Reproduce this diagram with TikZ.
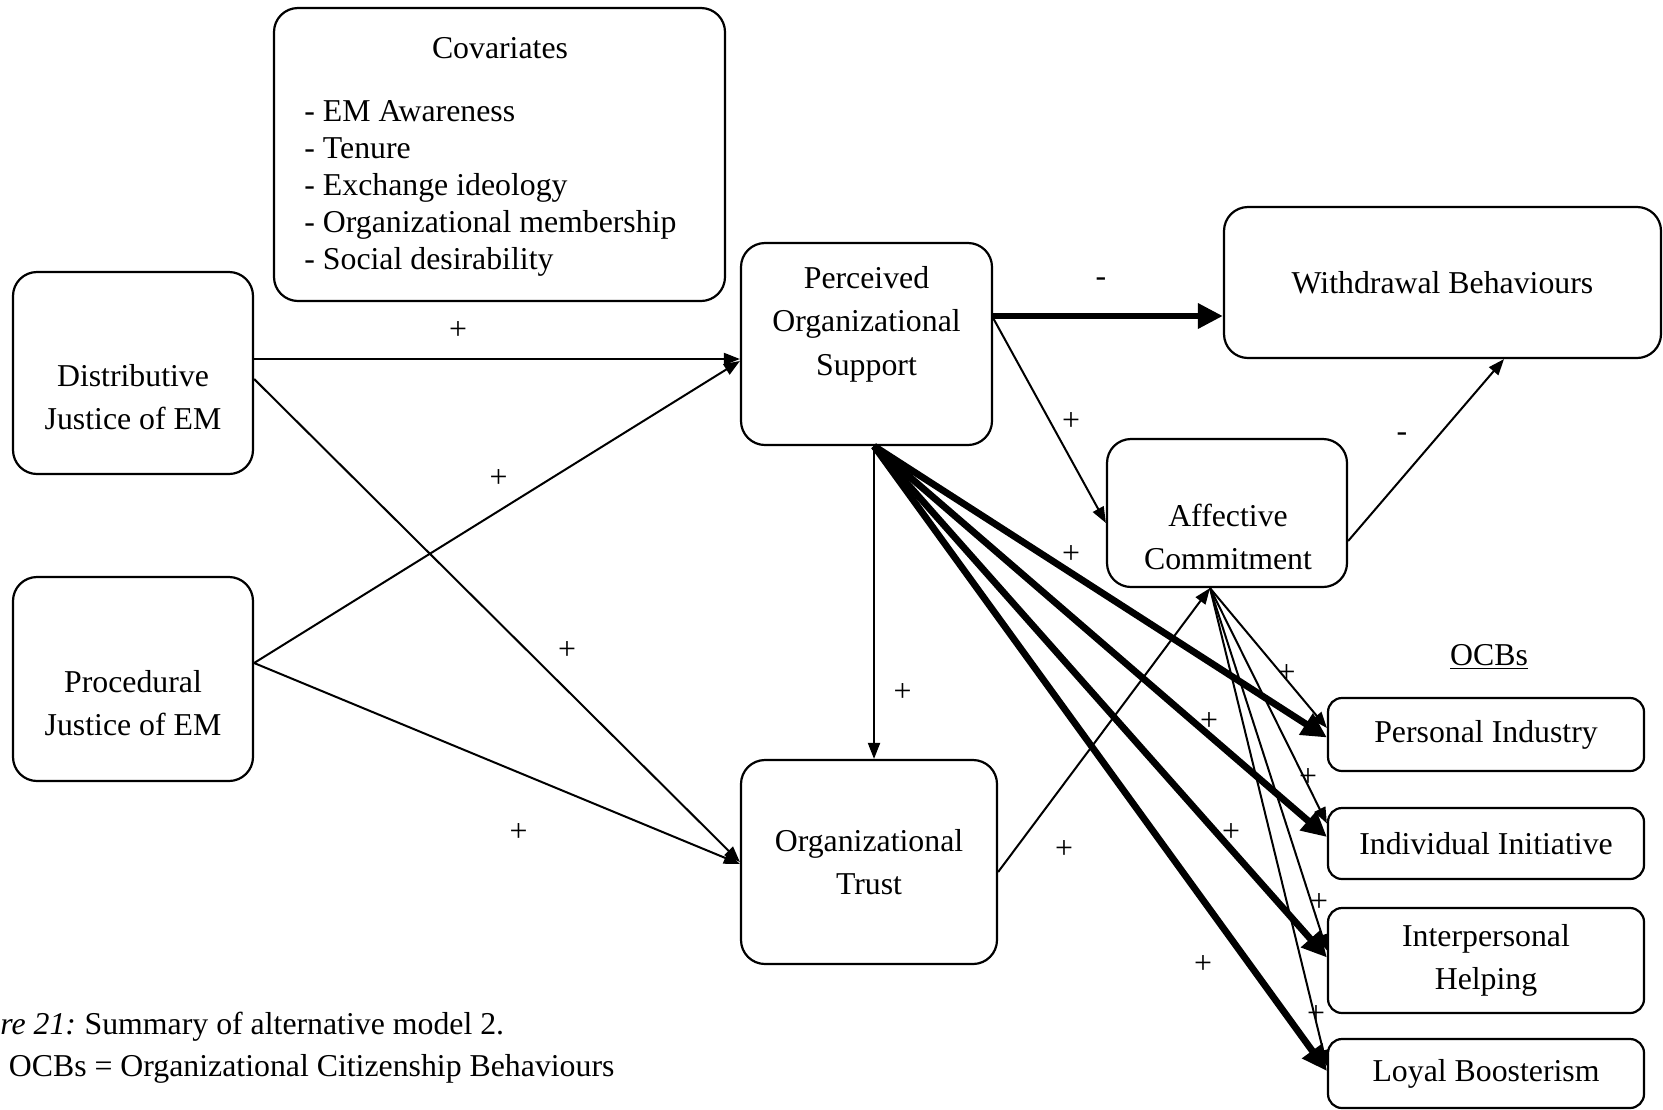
\documentclass[tikz,border=0pt]{standalone}
\usepackage{fontspec}
\setmainfont{Liberation Serif}
\usetikzlibrary{arrows.meta,positioning}

\begin{document}
\begin{tikzpicture}[x=0.5pt,y=-0.5pt,
    every node/.style={font=\fontsize{15.9}{21.2}\selectfont, inner sep=0pt},
    box/.style={draw, line width=1.1pt, rounded corners=12pt, align=center},
    ocbbox/.style={box, rounded corners=7pt, minimum width=158pt},
    link/.style={line width=1pt, -{Triangle[length=8pt,width=6pt]}},
    boldlink/.style={line width=3.4pt, -{Triangle[length=12.5pt,width=12pt]}}]
    \useasboundingbox (0,0) rectangle (1663,1109);
    % boxes
    \node[box, minimum width=225.5pt, minimum height=146.5pt] (cov) at (499.5,154.5) {};
    \node (cov-t) at (500,48) {Covariates};
    \node[align=left, anchor=west, font=\fontsize{15.9}{18.6}\selectfont] (cov-l) at (304,188.5)
        {- EM Awareness\\- Tenure\\- Exchange ideology\\- Organizational membership\\- Social desirability};
    \node[box, minimum width=120pt, minimum height=101pt] (dj) at (133,373) {};
    \node[align=center] (dj-t) at (133,397) {Distributive\\Justice of EM};
    \node[box, minimum width=120pt, minimum height=102pt] (pj) at (133,679) {};
    \node[align=center] (pj-t) at (133,703) {Procedural\\Justice of EM};
    \node[box, minimum width=125.5pt, minimum height=101pt] (pos) at (866.5,344) {};
    \node[align=center, font=\fontsize{15.9}{21.7}\selectfont] (pos-t) at (866.5,324) {Perceived\\Organizational\\Support};
    \node[box, minimum width=128pt, minimum height=102pt] (ot) at (869,862) {Organizational\\Trust};
    \node[box, minimum width=218.5pt, minimum height=75.5pt] (wb) at (1442.5,282.5) {Withdrawal Behaviours};
    \node[box, minimum width=120pt, minimum height=74pt] (ac) at (1227,513) {};
    \node[align=center] (ac-t) at (1228,537) {Affective\\Commitment};
    % OCBs
    \node (ocb) at (1489,657) {\underline{OCBs}};
    \node[ocbbox, minimum height=36.5pt] (pi) at (1486,734.5) {Personal Industry};
    \node[ocbbox, minimum height=35.5pt] (ii) at (1486,843.5) {Individual Initiative};
    \node[ocbbox, minimum height=52.5pt] (ih) at (1486,960.5) {Interpersonal\\Helping};
    \node[ocbbox, minimum height=34.5pt] (lb) at (1486,1073.5) {Loyal Boosterism};
    % caption
    \node[anchor=west] (cap1) at (0,1027) {\textit{re 21:}\hspace{-1pt} Summary of alternative model 2.};
    \node[anchor=west] (cap2) at (8.5,1069) {OCBs = Organizational Citizenship Behaviours};

    % paths
    \coordinate (pos-s) at ([xshift=3.75pt]pos.south);
    \coordinate (ac-s) at ([xshift=-8.5pt]ac.south);
    \draw[link] ([yshift=7pt]dj.east) -- ([yshift=-7.5pt]pos.west);
    \draw[link] ([yshift=-3pt]dj.east) -- (ot.west);
    \draw[link] ([yshift=8pt]pj.east) -- ([yshift=-8.5pt]pos.west);
    \draw[link] ([yshift=8pt]pj.east) -- ([yshift=-1pt]ot.west);
    \draw[link] (pos-s) -- (pos-s |- ot.north);
    \draw[boldlink] ([yshift=14pt]pos.east) -- ([yshift=-16.75pt]wb.west);
    \draw[link] ([yshift=13pt]pos.east) -- ([yshift=-5pt]ac.west);
    \draw[link] ([yshift=-14pt]ac.east) -- ([xshift=30.75pt]wb.south);
    \draw[link] ([yshift=-5pt]ot.east) -- (ac-s);
    \foreach \t/\a/\b in {pi/-1.5pt/3.25pt, ii/3.25pt/10pt, ih/1.5pt/5pt, lb/1.25pt/3.75pt} {
        \draw[boldlink] (pos-s) -- ([yshift=\a]\t.west);
        \draw[link] (ac-s) -- ([yshift=\b]\t.west);
    }
    % signs
    \foreach \x/\y/\c [count=\i] in {458/331/+, 567/651/+, 498.5/479/+, 518.6/832.5/+,
        902.5/692.5/+, 1101/282/-, 1071/422/+, 1402/437/-, 1064/849.5/+,
        1071/554.6/+, 1209/722/+, 1231/832.5/+, 1203/964/+,
        1286.5/673.5/+, 1308/778/+, 1319/902.5/+, 1316/1014/+}
        \node (s\i) at (\x,\y) {\c};
\end{tikzpicture}
\end{document}
